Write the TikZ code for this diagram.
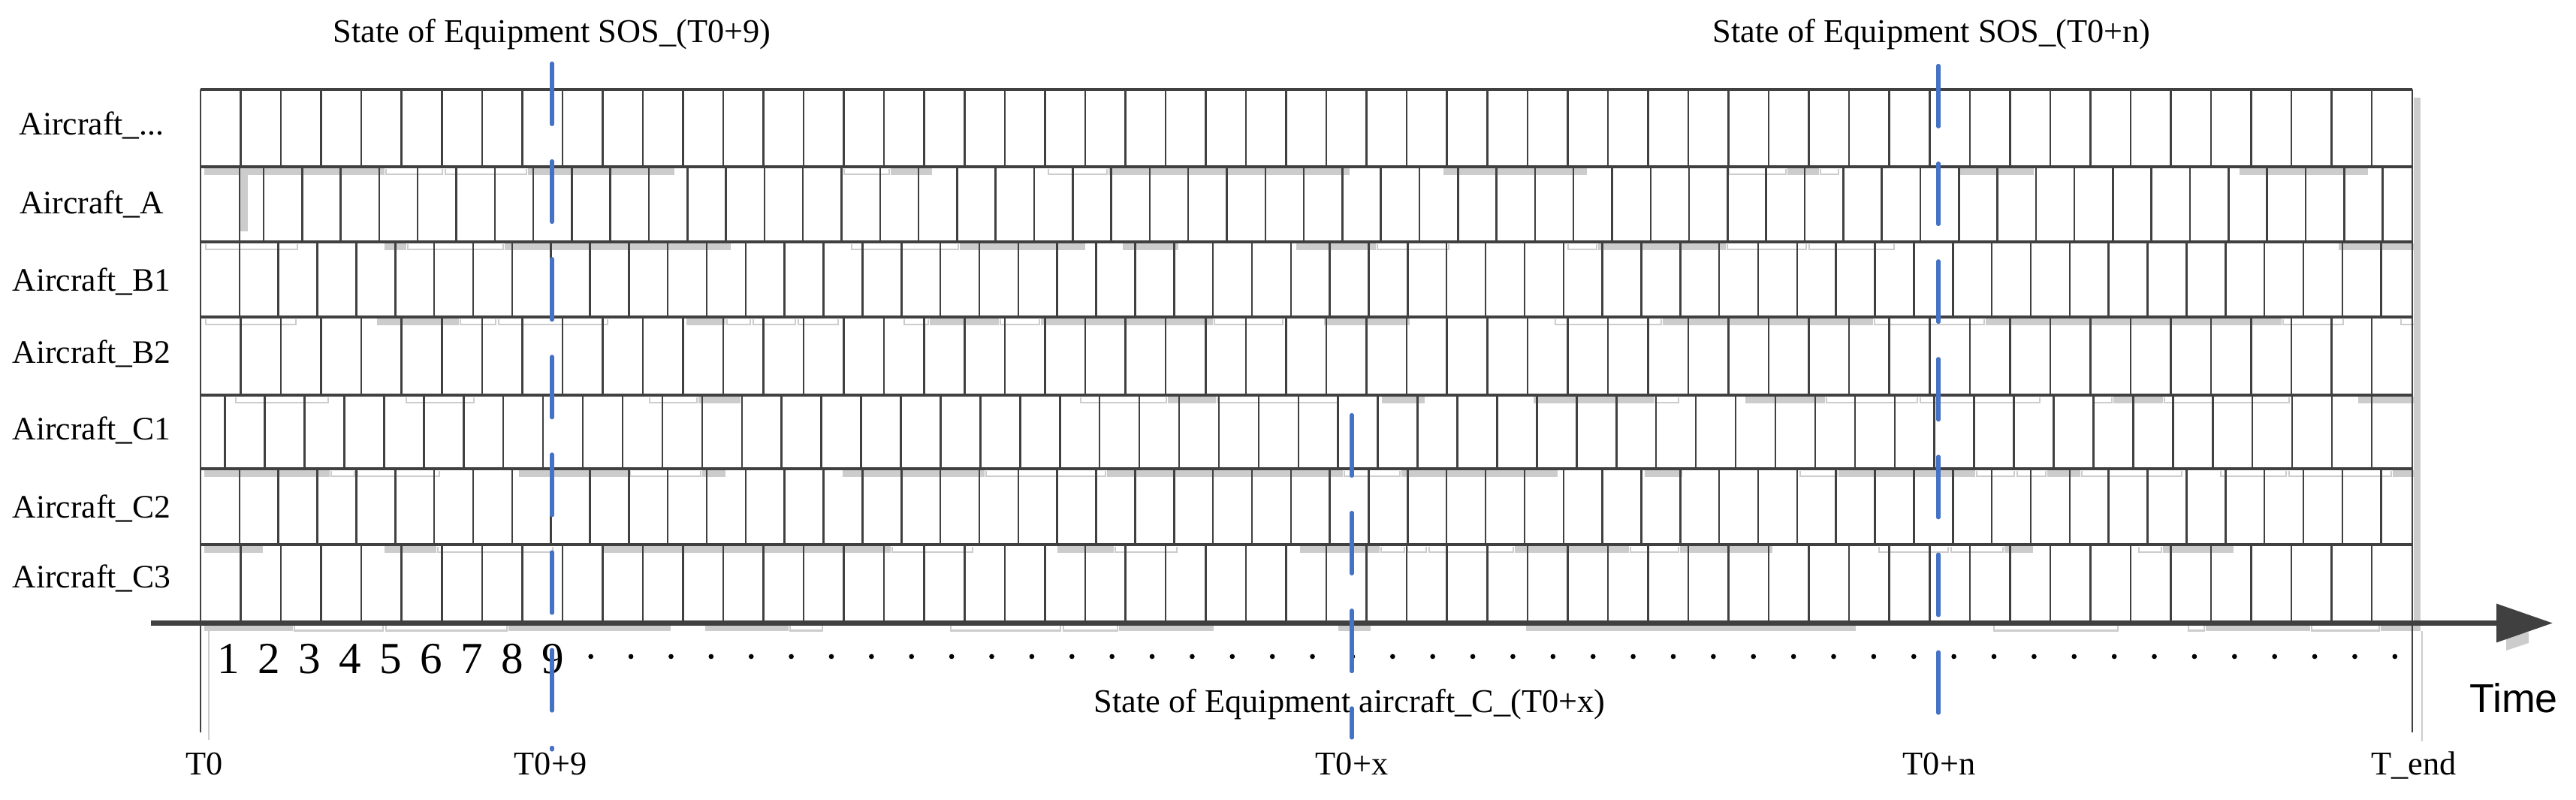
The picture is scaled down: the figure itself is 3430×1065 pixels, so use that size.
\documentclass[tikz,border=0pt]{standalone}
\usepackage{fontspec}
\setmainfont{Liberation Serif}
\newfontfamily\arialf{Liberation Sans}
\usetikzlibrary{arrows.meta}
\definecolor{gridc}{HTML}{404040}
\definecolor{shadegray}{HTML}{CCCCCC}
\definecolor{markblue}{HTML}{4472C4}
\tikzset{
  hline/.style={gridc, line width=1.0pt},
  vline/.style={gridc, line width=0.72pt},
  axisline/.style={gridc, line width=1.9pt, -{Triangle[length=21.3pt,width=14.2pt]}},
  marker/.style={markblue, line width=1.45pt, line cap=round, dash pattern=on 23pt off 14pt},
  rowlabel/.style={anchor=base, font=\fontsize{12.4}{14}\selectfont, inner sep=0pt},
  toplabel/.style={anchor=base, font=\fontsize{12.6}{14}\selectfont, inner sep=0pt},
  ticklabel/.style={anchor=base, font=\fontsize{12.6}{14}\selectfont, inner sep=0pt},
  digitlabel/.style={anchor=base, font=\fontsize{16.8}{18}\selectfont, inner sep=0pt},
  timelabel/.style={anchor=base, font=\arialf\fontsize{15.3}{17}\selectfont, inner sep=0pt},
  shadeline/.style={shadegray, line width=0.6pt}
}
\newcommand\shaderow[2]{%
  \pgfmathsetseed{#2}%
  \xdef\gx{272}%
  \foreach \k in {1,...,50}{%
    \pgfmathrandominteger{\glen}{25}{170}%
    \pgfmathrandominteger{\gt}{0}{9}%
    \pgfmathsetmacro\gxe{min(\gx+\glen,3222)}%
    \ifdim\gx pt<3215pt\relax
      \ifnum\gt<4\relax \fill[shadegray] (\gx,#1+2.5) rectangle (\gxe,#1+11);\fi
      \ifnum\gt>3\relax\ifnum\gt<7\relax \draw[shadeline] (\gx+2,#1+3)--(\gx+2,#1+10)--(\gxe-2,#1+10)--(\gxe-2,#1+3);\fi\fi
    \fi
    \xdef\gx{\gxe}%
  }%
}
\begin{document}
\begin{tikzpicture}[x=0.01cm,y=-0.01cm]
\useasboundingbox (0,0) rectangle (3430,1065);
% ---- light gray shadow artefacts ----
\shaderow{222}{11}
\shaderow{322}{23}
\shaderow{422}{37}
\shaderow{526}{41}
\shaderow{624}{53}
\shaderow{725}{67}
\shaderow{829.5}{79}
\fill[shadegray] (320,232) rectangle (330,308);
\fill[shadegray] (3214,130) rectangle (3223,840);
\draw[shadeline] (3225,840) -- (3225,987);
\draw[shadeline] (278,835) -- (278,985);
\fill[shadegray] (3337,842) -- (3367,842) -- (3367,856) -- (3337,866) -- cycle;
% ---- grid ----
\foreach \y in {119,222,322,422,526,624,725}
  \draw[hline] (267,\y) -- (3212,\y);
\coordinate (T0top) at (267,119);
\coordinate (T0bot) at (267,975);
\coordinate (TEtop) at (3212,119);
\coordinate (TEbot) at (3212,975);
\draw[vline] (T0top) -- (T0bot);
\draw[vline] (TEtop) -- (TEbot);
% row 1 (Aircraft_...)
\foreach \k in {1,...,54}
  \draw[vline] ({267+53.54*\k},119) -- ({267+53.54*\k},222);
% row A
\draw[vline] (319,222) -- (319,322);
\foreach \k in {0,...,55}
  \draw[vline] ({351+51.3*\k},222) -- ({351+51.3*\k},322);
% row B1
\foreach \k in {1,...,56}
  \draw[vline] ({267+51.85*\k},322) -- ({267+51.85*\k},422);
% row B2
\foreach \k in {1,...,54}
  \draw[vline] ({267+53.54*\k},422) -- ({267+53.54*\k},526);
% row C1
\foreach \k in {0,...,54}
  \draw[vline] ({299.7+52.93*\k},526) -- ({299.7+52.93*\k},624);
% row C2
\foreach \k in {1,...,56}
  \draw[vline] ({267+51.85*\k},624) -- ({267+51.85*\k},725);
% row C3
\foreach \k in {1,...,54}
  \draw[vline] ({267+53.54*\k},725) -- ({267+53.54*\k},829.5);
% ---- time axis ----
\coordinate (axL) at (201,829.5);
\coordinate (axR) at (3399,829.5);
\draw[axisline] (axL) -- (axR);
% ---- row labels ----
\node[rowlabel] (lab0) at (122,180) {Aircraft\_...};
\node[rowlabel] (labA) at (122,285) {Aircraft\_A};
\node[rowlabel] (labB1) at (122,388) {Aircraft\_B1};
\node[rowlabel] (labB2) at (122,484) {Aircraft\_B2};
\node[rowlabel] (labC1) at (122,586) {Aircraft\_C1};
\node[rowlabel] (labC2) at (122,690) {Aircraft\_C2};
\node[rowlabel] (labC3) at (122,783) {Aircraft\_C3};
% ---- digits and dots ----
\foreach \d [count=\i from 0] in {1,2,3,4,5,6,7,8,9}
  \node[digitlabel] (dig\d) at ({304.5+54.0*\i},897) {\d};
\foreach \k in {0,...,45}
  \fill ({786.7+53.38*\k},874) circle[radius=0.95pt];
% ---- time labels ----
\node[ticklabel] (lT0) at (272,1032) {T0};
\node[ticklabel] (lT9) at (733,1032) {T0+9};
\node[ticklabel] (lTx) at (1800,1032) {T0+x};
\node[ticklabel] (lTn) at (2582,1032) {T0+n};
\node[ticklabel] (lTe) at (3214,1032) {T\_end};
\node[timelabel] (ltime) at (3347,949) {Time};
% ---- state labels ----
\node[toplabel] (s9) at (735,57) {State of Equipment SOS\_(T0+9)};
\node[toplabel] (sn) at (2572,57) {State of Equipment SOS\_(T0+n)};
\node[toplabel] (sx) at (1797,949) {State of Equipment aircraft\_C\_(T0+x)};
% ---- blue markers ----
\coordinate (m9a) at (735,84.5);
\coordinate (m9b) at (735,998);
\coordinate (mxa) at (1800,552.5);
\coordinate (mxb) at (1800,982);
\coordinate (mna) at (2581,87.5);
\coordinate (mnb) at (2581,953);
\draw[marker] (m9a) -- (m9b);
\draw[marker] (mxa) -- (mxb);
\draw[marker] (mna) -- (mnb);
\end{tikzpicture}
\end{document}
